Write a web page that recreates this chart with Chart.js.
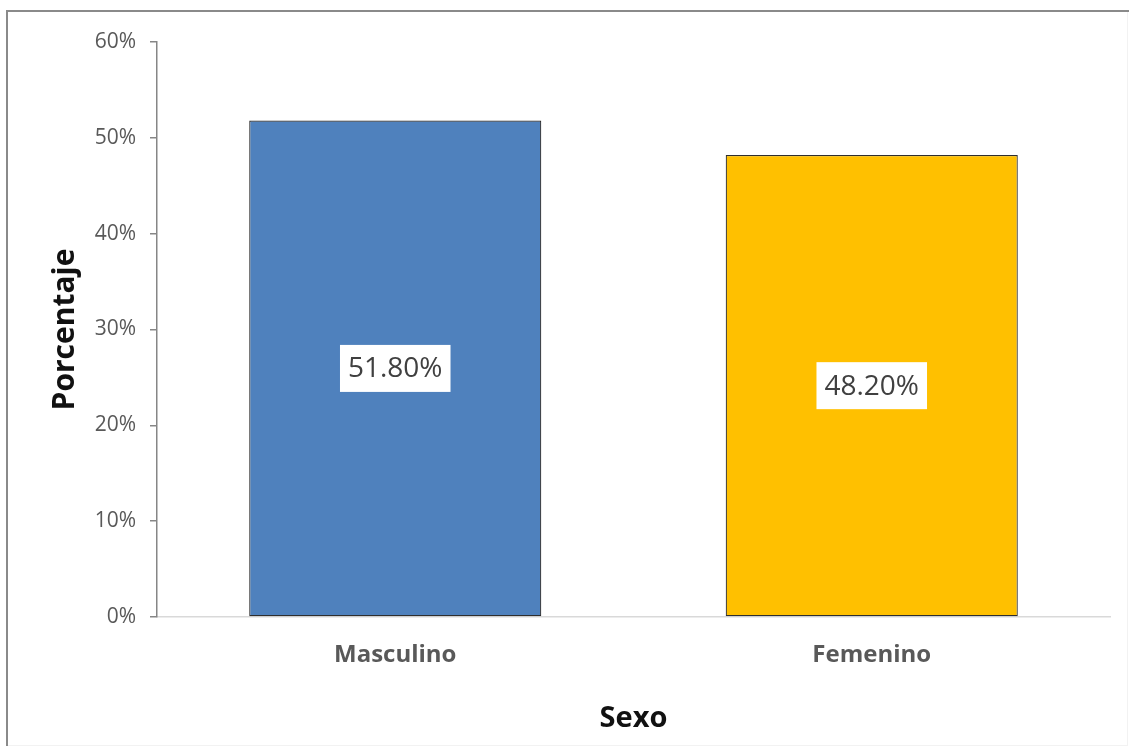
<!DOCTYPE html>
<html>
<head>
<meta charset="utf-8">
<script src="https://cdn.jsdelivr.net/npm/chart.js@4/dist/chart.umd.min.js"></script>
<style>
  html, body { margin: 0; padding: 0; background: #ffffff; }
  #wrap { position: relative; width: 1130px; height: 752px; }
</style>
</head>
<body>
<div id="wrap"><canvas id="chart" width="1130" height="752"></canvas></div>
<script>
// Distribución por sexo (porcentaje)
const categories = ['Masculino', 'Femenino'];
const percentages = [51.8, 48.2];
const barColors = ['#4F81BD', '#FFC000'];
const yTickValues = [0, 10, 20, 30, 40, 50, 60];
const yAxisTitle = 'Porcentaje';
const xAxisTitle = 'Sexo';

const FONT = "'Open Sans', 'DejaVu Sans', sans-serif";

// Frame around the whole chart
const framePlugin = {
  id: 'frame',
  beforeDraw(chart) {
    const ctx = chart.ctx;
    ctx.save();
    ctx.fillStyle = '#ffffff';
    ctx.fillRect(0, 0, chart.width, chart.height);
    ctx.strokeStyle = '#f2f2f2';
    ctx.lineWidth = 1;
    ctx.strokeRect(7.5, 11.5, 1120, 734);
    ctx.strokeStyle = '#8a8a8a';
    ctx.lineWidth = 2;
    ctx.beginPath();
    ctx.moveTo(7, 746);
    ctx.lineTo(7, 11);
    ctx.lineTo(1129, 11);
    ctx.stroke();
    ctx.restore();
  }
};

// Value labels in white boxes at the middle of each bar
const valueBoxPlugin = {
  id: 'valueBoxes',
  afterDatasetsDraw(chart) {
    const ctx = chart.ctx;
    const meta = chart.getDatasetMeta(0);
    const values = chart.data.datasets[0].data;
    ctx.save();
    ctx.font = '28px ' + FONT;
    ctx.textAlign = 'center';
    ctx.textBaseline = 'middle';
    meta.data.forEach((bar, i) => {
      const text = values[i].toFixed(2) + '%';
      const cy = (bar.y + bar.base) / 2;
      const w = ctx.measureText(text).width + 16;
      const h = 47;
      ctx.fillStyle = '#ffffff';
      ctx.fillRect(bar.x - w / 2, cy - h / 2, w, h);
      ctx.fillStyle = '#404040';
      ctx.fillText(text, bar.x, cy + 1);
    });
    ctx.restore();
  }
};

new Chart(document.getElementById('chart'), {
  type: 'bar',
  data: {
    labels: categories,
    datasets: [{
      data: percentages,
      backgroundColor: barColors,
      borderColor: '#2e2e2e',
      borderWidth: 1.2,
      borderSkipped: false,
      categoryPercentage: 1.0,
      barPercentage: 0.613
    }]
  },
  options: {
    responsive: false,
    animation: false,
    devicePixelRatio: 1,
    layout: { padding: { left: 0, top: 42, right: 20, bottom: 0 } },
    plugins: {
      legend: { display: false },
      tooltip: { enabled: false },
      title: { display: false }
    },
    scales: {
      x: {
        grid: { display: true, drawOnChartArea: false, drawTicks: false },
        border: { display: true, color: '#d9d9d9', width: 1.5 },
        ticks: {
          color: '#595959',
          font: { family: FONT, size: 24, weight: 'bold' },
          padding: 24
        },
        title: {
          display: true,
          text: xAxisTitle,
          color: '#111111',
          font: { family: FONT, size: 29, weight: 'bold' },
          padding: { top: 0, bottom: 16 }
        },
        afterFit(scale) { scale.height = 135; }
      },
      y: {
        min: 0,
        max: 60,
        afterBuildTicks(scale) {
          scale.ticks = yTickValues.map(v => ({ value: v }));
        },
        grid: {
          display: true,
          drawOnChartArea: false,
          drawTicks: true,
          tickLength: 7,
          color: '#868686',
          lineWidth: 1.5
        },
        border: { display: true, color: '#868686', width: 1.5 },
        ticks: {
          color: '#595959',
          font: { family: FONT, size: 21 },
          padding: 14,
          callback: v => v + '%'
        },
        title: {
          display: true,
          text: yAxisTitle,
          color: '#111111',
          font: { family: FONT, size: 30, weight: 'bold' },
          padding: { top: 47, bottom: 0 }
        },
        afterFit(scale) { scale.width = 157; }
      }
    }
  },
  plugins: [framePlugin, valueBoxPlugin]
});
</script>
</body>
</html>
